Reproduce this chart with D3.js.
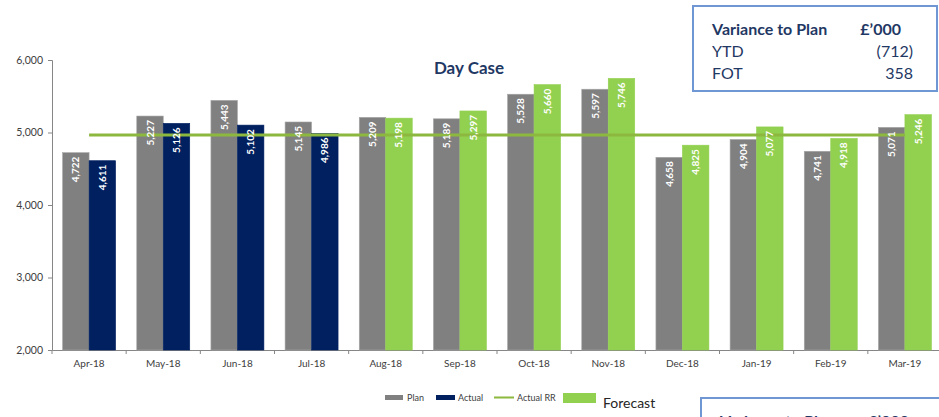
<!DOCTYPE html>
<html><head><meta charset="utf-8">
<script src="https://cdn.jsdelivr.net/npm/d3@7"></script>
<style>body{margin:0;background:#fff;}svg{display:block;font-family:Lato,"Open Sans",sans-serif;}</style>
</head><body>
<script>
const months = ["Apr-18","May-18","Jun-18","Jul-18","Aug-18","Sep-18","Oct-18","Nov-18","Dec-18","Jan-19","Feb-19","Mar-19"];
const plan = [4722,5227,5443,5145,5209,5189,5528,5597,4658,4904,4741,5071];
const actual = [4611,5126,5102,4986,null,null,null,null,null,null,null,null];
const forecast = [null,null,null,null,5198,5297,5660,5746,4825,5077,4918,5246];
const actualRR = 4965;
const yTicks = [2000,3000,4000,5000,6000];
const varianceRows = [["YTD","(712)"],["FOT","358"]];

const W=939,H=417;
const svg=d3.select("body").append("svg").attr("width",W).attr("height",H);
const x=d3.scaleBand().domain(months).range([52,942]);
const xs=d3.scaleBand().domain(["p","s"]).range([0,x.bandwidth()]).paddingOuter(0.4);
const y=d3.scaleLinear().domain([2000,6000]).range([350,60]);

// axes
const ya=svg.append("g").attr("transform","translate(52,0)")
  .call(d3.axisLeft(y).tickValues(yTicks).tickFormat(d3.format(",")).tickSize(4).tickPadding(5));
ya.select(".domain").attr("stroke","#868686");
ya.selectAll(".tick line").attr("stroke","#868686");
ya.selectAll("text").attr("fill","#404040").style("font-size","10.5px").style("font-family","Lato");

const xa=svg.append("g").attr("transform","translate(0,350)")
  .call(d3.axisBottom(x).tickSize(0).tickPadding(10));
xa.select(".domain").attr("stroke","#868686");
xa.selectAll("text").attr("fill","#404040").style("font-size","10px").style("font-family","Lato");
// boundary ticks
svg.append("g").selectAll("line").data(months).join("line")
  .attr("x1",d=>x(d)).attr("x2",d=>x(d)).attr("y1",350).attr("y2",354).attr("stroke","#868686");

const rows=months.map((m,i)=>({m,i}));
const gBars=svg.append("g");
const gLine=svg.append("g");
const gLabels=svg.append("g");
function bars(vals,key,color,stroke){
  const data=rows.filter(r=>vals[r.i]!=null).map(r=>({m:r.m,v:vals[r.i]}));
  gBars.selectAll(null).data(data).join("rect")
    .attr("x",d=>x(d.m)+xs(key)).attr("width",xs.bandwidth())
    .attr("y",d=>y(d.v)).attr("height",d=>350-y(d.v))
    .attr("fill",color).attr("stroke",stroke).attr("stroke-width",0.6);
  gLabels.selectAll(null).data(data).join("text")
    .attr("transform",d=>`translate(${x(d.m)+xs(key)+xs.bandwidth()/2+3.5},${y(d.v)+4}) rotate(-90)`)
    .attr("text-anchor","end").attr("fill","#fff").style("font-size","10px").style("font-weight","bold")
    .text(d=>d3.format(",")(d.v));
}
bars(plan,"p","#808080","#a6a6a6");
bars(actual,"s","#002060","#002060");
bars(forecast,"s","#92D050","#92D050");

// Actual RR line
gLine.append("line").attr("x1",x(months[0])+x.bandwidth()/2).attr("x2",x(months[11])+x.bandwidth()/2)
  .attr("y1",y(actualRR)).attr("y2",y(actualRR)).attr("stroke","#8DB83F").attr("stroke-width",3);

// title
svg.append("text").attr("x",469).attr("y",74).attr("text-anchor","middle")
  .attr("fill","#1F3864").style("font-size","17px").style("font-weight","bold").text("Day Case");

// variance box
function box(x0,y0){
  const b=svg.append("g");
  b.append("rect").attr("x",x0).attr("y",y0).attr("width",244).attr("height",85)
    .attr("fill","#fff").attr("stroke","#6F97D4").attr("stroke-width",2);
  b.append("text").attr("x",x0+19).attr("y",y0+29).attr("fill","#1F3864")
    .style("font-size","16px").style("font-weight","bold").text("Variance to Plan");
  b.append("text").attr("x",x0+208).attr("y",y0+29).attr("text-anchor","end").attr("fill","#1F3864")
    .style("font-size","16px").style("font-weight","bold").text("£’000");
  varianceRows.forEach((r,i)=>{
    b.append("text").attr("x",x0+19).attr("y",y0+51+i*22).attr("fill","#1F3864").style("font-size","16px").text(r[0]);
    b.append("text").attr("x",x0+220).attr("y",y0+51+i*22).attr("text-anchor","end").attr("fill","#1F3864").style("font-size","16px").text(r[1]);
  });
}
box(693,6);
box(701,398);

// legend
const lg=svg.append("g");
lg.append("rect").attr("x",385).attr("y",395).attr("width",18).attr("height",5).attr("fill","#808080");
lg.append("text").attr("x",407).attr("y",401).attr("fill","#404040").style("font-size","9px").text("Plan");
lg.append("rect").attr("x",436).attr("y",395).attr("width",19).attr("height",5).attr("fill","#002060");
lg.append("text").attr("x",458).attr("y",401).attr("fill","#404040").style("font-size","9px").text("Actual");
lg.append("line").attr("x1",494).attr("x2",514).attr("y1",397.5).attr("y2",397.5).attr("stroke","#8DB83F").attr("stroke-width",2);
lg.append("text").attr("x",517).attr("y",401).attr("fill","#404040").style("font-size","9px").text("Actual RR");
lg.append("rect").attr("x",563).attr("y",393).attr("width",33).attr("height",10).attr("fill","#92D050");
lg.append("text").attr("x",603).attr("y",408).attr("fill","#262626").style("font-size","14px").text("Forecast");
</script>
</body></html>
